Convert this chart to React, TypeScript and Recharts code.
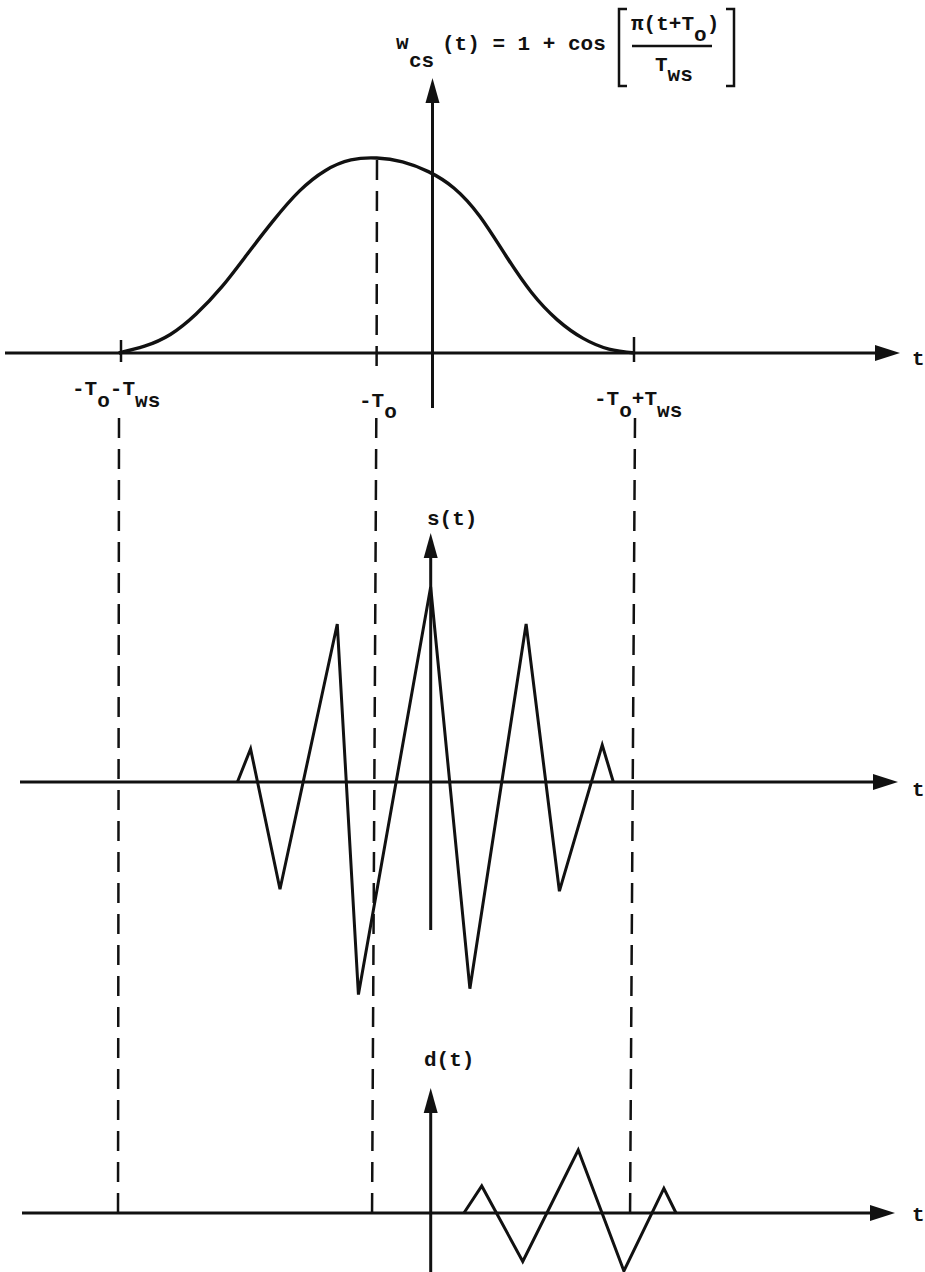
import React from "react";
import { ComposedChart, Line, XAxis, YAxis, ReferenceLine, ReferenceDot } from "recharts";

const CHART_W = 925;
const CHART_H = 1272;

// ---------------- data ----------------
const T0 = 2.19; // T_o
const TWS = 10.0; // T_ws
const markerT = [-T0 - TWS, -T0, -T0 + TWS];

// raised-cosine window w_cs(t)
const windowT = [-12.2, -11.2, -10.2, -9.2, -8.2, -7.2, -6.2, -5.2, -4.2, -3.2, -2.2, -1.2, -0.2, 0.8, 1.8, 2.8, 3.8, 4.8, 5.8, 6.8, 7.8];
const windowW = [0, 0.07, 0.19, 0.4, 0.68, 1.02, 1.36, 1.66, 1.87, 1.98, 2.0, 1.96, 1.86, 1.69, 1.4, 1.0, 0.62, 0.34, 0.15, 0.04, 0];

// s(t)
const sT = [-7.6, -7.09, -5.95, -3.73, -2.91, -0.11, 1.41, 3.59, 4.88, 6.54, 6.97];
const sV = [0, 0.17, -0.55, 0.81, -1.09, 1.0, -1.06, 0.81, -0.56, 0.19, 0];

// d(t)
const dT = [1.18, 1.87, 3.46, 5.61, 7.38, 8.93, 9.4];
const dV = [0, 0.43, -0.77, 1.0, -0.92, 0.39, 0];

const windowData = windowT.map((t, i) => ({ t, v: windowW[i] }));
const sData = sT.map((t, i) => ({ t, v: sV[i] }));
const dData = dT.map((t, i) => ({ t, v: dV[i] }));

// ---------------- layout ----------------
const PX_PER_T = 25.8;
const ORIGIN_X = 433.5;
const tx = (px: number) => (px - ORIGIN_X) / PX_PER_T;
const PANEL = {
  w: { base: 353, unit: 97.5 },
  s: { base: 782, unit: 195 },
  d: { base: 1213, unit: 63 },
};
const dom = (p: { base: number; unit: number }) => [(p.base - CHART_H) / p.unit, p.base / p.unit];
const wy = (py: number) => (PANEL.w.base - py) / PANEL.w.unit;

const FONT = "'Liberation Mono', 'Courier New', monospace";
const FS = 21;
const INK = "#111";

const at = (key: string, px: number, py: number, node: React.ReactNode) => (
  <ReferenceDot
    key={key}
    yAxisId="w"
    x={tx(px)}
    y={wy(py)}
    r={0}
    ifOverflow="visible"
    shape={(p: any) => <g transform={`translate(${p.cx},${p.cy})`}>{node}</g>}
  />
);

const seg = (key: string, x1: number, y1: number, x2: number, y2: number, dashed = false, width = 3) => (
  <ReferenceLine
    key={key}
    yAxisId="w"
    ifOverflow="visible"
    segment={[
      { x: tx(x1), y: wy(y1) },
      { x: tx(x2), y: wy(y2) },
    ]}
    stroke={INK}
    strokeWidth={width}
    strokeDasharray={dashed ? "20 11" : undefined}
  />
);

const rightHead = <polygon points="0,0 -25,-8 -25,8" fill={INK} />;
const upHead = <polygon points="0,0 -7,25 7,25" fill={INK} />;

type Piece = { s: string; dx?: number; dy?: number };
const Txt = ({ pieces }: { pieces: Piece[] }) => (
  <text x={0} y={0} fontFamily={FONT} fontSize={FS} fontWeight="bold" fill={INK} style={{ whiteSpace: "pre" }}>
    {pieces.map((p, i) => (
      <tspan key={i} dx={p.dx ?? 0} dy={p.dy ?? 0}>
        {p.s}
      </tspan>
    ))}
  </text>
);

const labelLeft = ["-T", "o", "-T", "ws"];
const labelMid = ["-T", "o"];
const labelRight = ["-T", "o", "+T", "ws"];

const Formula = () => (
  <g>
    <Txt pieces={[{ s: "w" }]} />
    <g transform="translate(13,18)">
      <Txt pieces={[{ s: "cs" }]} />
    </g>
    <g transform="translate(46,1)">
      <Txt pieces={[{ s: "(t) = 1 + cos" }]} />
    </g>
    {/* brackets */}
    <path d="M231,-40 L223,-40 L223,37 L231,37" fill="none" stroke={INK} strokeWidth={2.5} />
    <path d="M330,-40 L338,-40 L338,37 L330,37" fill="none" stroke={INK} strokeWidth={2.5} />
    {/* numerator */}
    <g transform="translate(235,-19)">
      <Txt pieces={[{ s: "\u03c0(t+T" }, { s: "o", dy: 11 }, { s: ")", dy: -11 }]} />
    </g>
    <line x1={236} y1={-3} x2={316} y2={-3} stroke={INK} strokeWidth={2.5} />
    {/* denominator */}
    <g transform="translate(259,22)">
      <Txt pieces={[{ s: "T" }, { s: "ws", dy: 10 }]} />
    </g>
  </g>
);

export default function App() {
  return (
    <div style={{ position: "absolute", left: 0, top: 0, width: CHART_W, height: CHART_H, background: "#fff" }}>
      <ComposedChart width={CHART_W} height={CHART_H} margin={{ top: 0, right: 0, bottom: 0, left: 0 }}>
        <XAxis type="number" dataKey="t" domain={[tx(0), tx(CHART_W)]} allowDataOverflow hide />
        <YAxis yAxisId="w" type="number" domain={dom(PANEL.w)} allowDataOverflow hide />
        <YAxis yAxisId="s" type="number" domain={dom(PANEL.s)} allowDataOverflow hide />
        <YAxis yAxisId="d" type="number" domain={dom(PANEL.d)} allowDataOverflow hide />

        {/* horizontal axes */}
        {seg("ax1", 5, 353, 880, 353)}
        {seg("ax2", 20, 782, 878, 782)}
        {seg("ax3", 22, 1213, 875, 1213)}
        {at("ah1", 900, 353, rightHead)}
        {at("ah2", 898, 782, rightHead)}
        {at("ah3", 895, 1213, rightHead)}
        {at("tl1", 912, 365, <Txt pieces={[{ s: "t" }]} />)}
        {at("tl2", 912, 796, <Txt pieces={[{ s: "t" }]} />)}
        {at("tl3", 912, 1221, <Txt pieces={[{ s: "t" }]} />)}

        {/* vertical axes */}
        {seg("vy1", 432.5, 100, 432.5, 408)}
        {at("vh1", 432.5, 78, upHead)}
        {seg("vy2", 430.7, 555, 430.7, 930)}
        {at("vh2", 430.7, 533, upHead)}
        {seg("vy3", 430.7, 1110, 430.7, 1272)}
        {at("vh3", 430.7, 1088, upHead)}

        {/* ticks on top axis */}
        {seg("tk1", 121, 340, 121, 362, false, 2.5)}
        {seg("tk2", 634, 337, 634, 362, false, 2.5)}

        {/* dashed guide lines at -To-Tws, -To, -To+Tws */}
        {seg("dm1", ORIGIN_X + markerT[1] * PX_PER_T, 160, 376.6, 368, true, 2.5)}
        {seg("dl", ORIGIN_X + markerT[0] * PX_PER_T, 418, 118, 1222, true, 2.5)}
        {seg("dm2", 376.3, 418, 372, 1222, true, 2.5)}
        {seg("dr", ORIGIN_X + markerT[2] * PX_PER_T, 418, 630, 1222, true, 2.5)}

        {/* labels */}
        {at("lab1", 72, 395, <Txt pieces={[{ s: labelLeft[0] }, { s: labelLeft[1], dy: 12 }, { s: labelLeft[2], dy: -12 }, { s: labelLeft[3], dy: 12 }]} />)}
        {at("lab2", 359, 407, <Txt pieces={[{ s: labelMid[0] }, { s: labelMid[1], dy: 11 }]} />)}
        {at("lab3", 594, 405, <Txt pieces={[{ s: labelRight[0] }, { s: labelRight[1], dy: 12 }, { s: labelRight[2], dy: -12 }, { s: labelRight[3], dy: 12 }]} />)}
        {at("slab", 427, 525, <Txt pieces={[{ s: "s(t)" }]} />)}
        {at("dlab", 424, 1066, <Txt pieces={[{ s: "d(t)" }]} />)}
        {at("formula", 396, 49, <Formula />)}

        {/* series */}
        <Line yAxisId="w" data={windowData} dataKey="v" type="natural" dot={false} activeDot={false} stroke={INK} strokeWidth={3.4} isAnimationActive={false} />
        <Line yAxisId="s" data={sData} dataKey="v" type="linear" dot={false} activeDot={false} stroke={INK} strokeWidth={3} strokeLinejoin="miter" isAnimationActive={false} />
        <Line yAxisId="d" data={dData} dataKey="v" type="linear" dot={false} activeDot={false} stroke={INK} strokeWidth={3} strokeLinejoin="miter" isAnimationActive={false} />
      </ComposedChart>
    </div>
  );
}
